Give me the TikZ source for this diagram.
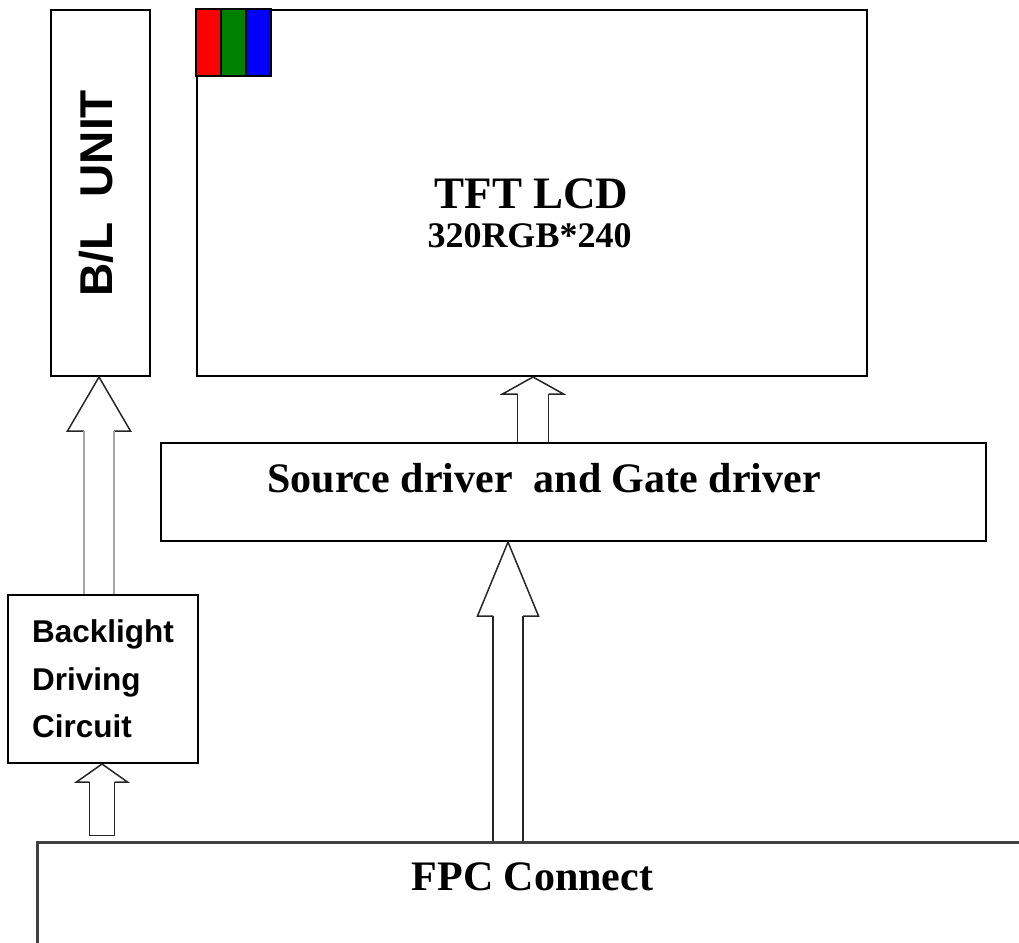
\documentclass[tikz,border=0pt]{standalone}
\usepackage{fontspec}
\setmainfont{Liberation Serif}
\setsansfont{Liberation Sans}
\usetikzlibrary{calc}

\tikzset{
  box/.style={draw, line width=2pt, inner sep=0pt},
  headline/.style={draw=black!85, line width=1.5pt, line join=miter},
  shaftline/.style={draw=black!85, line width=1.5pt},
  greyshaft/.style={draw=black!35, line width=2pt},
  serifbold/.style={font=\fontsize{#1}{#1}\selectfont\bfseries},
}

% hollow block arrow: [shaft style]{tip}{base}{shaft half}{head half}{head length}{gap}
\newcommand{\blockarrow}[7][shaftline]{%
  \draw[headline] let \p1=(#2) in
    (\x1-#4pt,\y1-#6pt) -- (\x1-#5pt,\y1-#6pt) -- (\x1,\y1)
    -- (\x1+#5pt,\y1-#6pt) -- (\x1+#4pt,\y1-#6pt);
  \draw[#1] let \p1=(#2), \p2=(#3) in
    (\x1-#4pt,\y1-#6pt) -- (\x1-#4pt,\y2+#7pt)
    (\x1+#4pt,\y1-#6pt) -- (\x1+#4pt,\y2+#7pt);
  \ifdim #7pt>0pt
    \draw[#1] let \p1=(#2), \p2=(#3) in
      (\x1-#4pt,\y2+#7pt) -- (\x1+#4pt,\y2+#7pt);
  \fi
}

\begin{document}
\begin{tikzpicture}[x=1pt,y=-1pt]
    \useasboundingbox (0,0) rectangle (1019,942);
    \clip (0,0) rectangle (1019,942);

    % backlight unit
    \node[box, minimum width=99pt, minimum height=366pt] (blunit) at (100.5,193) {};
    \node[font=\sffamily\bfseries\fontsize{46}{46}\selectfont, rotate=90, anchor=base]
        (bltext) at (112,193.5) {B/L\ \ UNIT};

    % panel
    \node[box, minimum width=670pt, minimum height=366pt] (tftlcd) at (532,193) {};
    \foreach \c [count=\i from 0] in {red,green!50!black,blue} {
        \draw[fill=\c, line width=1.5pt] ($(tftlcd.north west)+(25*\i,0)$) rectangle ++(25,67);
    }
    \node[serifbold=45, anchor=base] (tfttitle) at (531.5,208) {TFT LCD};
    \node[serifbold=36, anchor=base] (tftres) at (529.5,247) {320RGB*240};

    % drivers
    \node[box, minimum width=825pt, minimum height=98pt] (driver) at (573.5,492) {};
    \node[serifbold=42, anchor=base] (drvtext) at (544,492) {Source driver\ \ and Gate driver};

    \node[box, minimum width=190pt, minimum height=168pt, align=left,
        font=\sffamily\bfseries\fontsize{31.5}{47.5}\selectfont]
        (bldrive) at (103,679) {Backlight\\Driving\\Circuit};

    % connector
    \node[box, draw=black!75, line width=3pt, minimum width=1010pt, minimum height=116pt] (fpc) at (542,900) {};
    \node[serifbold=42, anchor=base] (fpctext) at (532.5,890) {FPC Connect};

    \blockarrow[greyshaft]{[xshift=-1.5pt]blunit.south}{bldrive.north}{15}{31.5}{54}{0}
    \blockarrow{[xshift=-1pt]bldrive.south}{fpc.north}{12.5}{25.5}{18}{5}
    \blockarrow{[xshift=1pt]tftlcd.south}{driver.north}{15.5}{30.5}{17}{0}
    \blockarrow{[xshift=-65.5pt]driver.south}{fpc.north}{15}{30.5}{74}{0}

\end{tikzpicture}
\end{document}
